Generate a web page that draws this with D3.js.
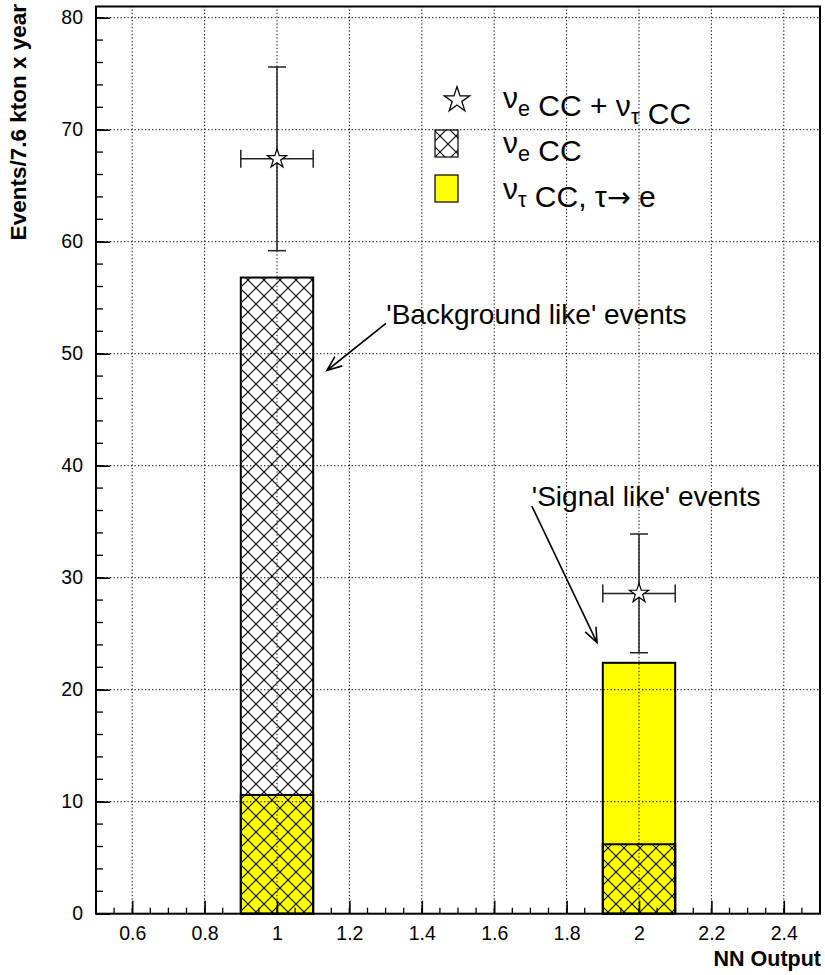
<!DOCTYPE html>
<html>
<head>
<meta charset="utf-8">
<script src="https://cdn.jsdelivr.net/npm/d3@7"></script>
<style>
  body { margin: 0; background: #fff; }
  svg { display: block; }
  text { font-family: "Liberation Sans", Arial, Helvetica, sans-serif; }
</style>
</head>
<body>
<div id="chart"></div>
<script>
// bins (NN output) and contents
const binCenters = [1, 2];
const binLow = [0.9, 1.9];
const binHigh = [1.1, 2.1];
const nueCC = [56.8, 6.2];      // hatched
const nutauCC = [10.6, 22.4];   // yellow
const totalCC = [67.4, 28.6];   // stars
const totalErr = [8.2, 5.3];
const xErr = [0.1, 0.1];

const xTicks = [0.6, 0.8, 1, 1.2, 1.4, 1.6, 1.8, 2, 2.2, 2.4];
const xTickLabels = ["0.6", "0.8", "1", "1.2", "1.4", "1.6", "1.8", "2", "2.2", "2.4"];
const yTicks = [0, 10, 20, 30, 40, 50, 60, 70, 80];

const width = 825, height = 975;

const x = d3.scaleLinear().domain([0.5, 2.5]).range([96, 820]);
const y = d3.scaleLinear().domain([0, 81]).range([913.7, 6.5]);

const svg = d3.select("#chart").append("svg")
    .attr("width", width)
    .attr("height", height);

const defs = svg.append("defs");
const hatch = defs.append("pattern")
    .attr("id", "hatch")
    .attr("patternUnits", "userSpaceOnUse")
    .attr("width", 16).attr("height", 16);
hatch.append("path")
    .attr("d", "M-2,-2 L18,18 M18,-2 L-2,18")
    .attr("stroke", "#000")
    .attr("stroke-width", 1.1)
    .attr("fill", "none");

// yellow (nu_tau) histogram
svg.selectAll("rect.tau")
    .data(binCenters)
    .enter().append("rect")
    .attr("class", "tau")
    .attr("x", (d, i) => x(binLow[i]))
    .attr("width", (d, i) => x(binHigh[i]) - x(binLow[i]))
    .attr("y", (d, i) => y(nutauCC[i]))
    .attr("height", (d, i) => y(0) - y(nutauCC[i]))
    .attr("fill", "#ffff00");

// hatched (nu_e) histogram on top
svg.selectAll("rect.nue")
    .data(binCenters)
    .enter().append("rect")
    .attr("class", "nue")
    .attr("x", (d, i) => x(binLow[i]))
    .attr("width", (d, i) => x(binHigh[i]) - x(binLow[i]))
    .attr("y", (d, i) => y(nueCC[i]))
    .attr("height", (d, i) => y(0) - y(nueCC[i]))
    .attr("fill", "url(#hatch)");

// outlines
[nutauCC, nueCC].forEach(vals => {
  svg.append("g").selectAll("rect")
    .data(binCenters)
    .enter().append("rect")
    .attr("x", (d, i) => x(binLow[i]))
    .attr("width", (d, i) => x(binHigh[i]) - x(binLow[i]))
    .attr("y", (d, i) => y(vals[i]))
    .attr("height", (d, i) => y(0) - y(vals[i]))
    .attr("fill", "none")
    .attr("stroke", "#000")
    .attr("stroke-width", 2);
});

// grid
const grid = svg.append("g")
    .attr("stroke", "#000")
    .attr("stroke-width", 1)
    .attr("stroke-dasharray", "1.3,2.2");
grid.selectAll("line.gx")
    .data(xTicks)
    .enter().append("line")
    .attr("x1", d => x(d)).attr("x2", d => x(d))
    .attr("y1", y(0)).attr("y2", y(81));
grid.selectAll("line.gy")
    .data(yTicks.slice(1))
    .enter().append("line")
    .attr("x1", x(0.5)).attr("x2", x(2.5))
    .attr("y1", d => y(d)).attr("y2", d => y(d));

// minor ticks
const minorX = d3.range(0.5, 2.5001, 0.05);
const minorY = d3.range(0, 81, 2);
svg.append("g").selectAll("line")
    .data(minorX)
    .enter().append("line")
    .attr("x1", d => x(d)).attr("x2", d => x(d))
    .attr("y1", y(0)).attr("y2", y(0) - 6)
    .attr("stroke", "#000").attr("stroke-width", 1.3);
svg.append("g").selectAll("line")
    .data(minorY)
    .enter().append("line")
    .attr("x1", x(0.5)).attr("x2", x(0.5) + 7)
    .attr("y1", d => y(d)).attr("y2", d => y(d))
    .attr("stroke", "#000").attr("stroke-width", 1.3);

// axes
const xAxis = svg.append("g")
    .attr("transform", `translate(0,${y(0)})`)
    .call(d3.axisBottom(x).tickValues(xTicks)
        .tickFormat((d, i) => xTickLabels[i])
        .tickSize(-13).tickPadding(9));
const yAxis = svg.append("g")
    .attr("transform", `translate(${x(0.5)},0)`)
    .call(d3.axisLeft(y).tickValues(yTicks).tickSize(-14).tickPadding(13));
[xAxis, yAxis].forEach(a => {
  a.select(".domain").remove();
  a.selectAll(".tick line").attr("stroke-width", 1.6);
  a.selectAll("text")
    .attr("font-size", 19.5)
    .attr("font-family", "Liberation Sans, Arial, sans-serif")
    .attr("fill", "#000");
});
xAxis.selectAll("text").attr("dy", "0.9em");

// frame
svg.append("rect")
    .attr("x", x(0.5)).attr("y", y(81))
    .attr("width", x(2.5) - x(0.5))
    .attr("height", y(0) - y(81))
    .attr("fill", "none")
    .attr("stroke", "#000")
    .attr("stroke-width", 2);

// axis titles
svg.append("text")
    .attr("x", 821).attr("y", 966)
    .attr("text-anchor", "end")
    .attr("font-size", 21.5)
    .attr("font-weight", "bold")
    .text("NN Output");
svg.append("text")
    .attr("transform", "translate(26,4) rotate(-90)")
    .attr("text-anchor", "end")
    .attr("font-size", 22.5)
    .attr("font-weight", "bold")
    .text("Events/7.6 kton x year");

// data points with errors
const pts = svg.append("g");
binCenters.forEach((c, i) => {
  const g = pts.append("g").attr("stroke", "#222").attr("stroke-width", 1.5);
  g.append("line")
    .attr("x1", x(c)).attr("x2", x(c))
    .attr("y1", y(totalCC[i] - totalErr[i])).attr("y2", y(totalCC[i] + totalErr[i]));
  g.append("line")
    .attr("x1", x(c - xErr[i])).attr("x2", x(c + xErr[i]))
    .attr("y1", y(totalCC[i])).attr("y2", y(totalCC[i]));
  [totalCC[i] - totalErr[i], totalCC[i] + totalErr[i]].forEach(v => {
    g.append("line")
      .attr("x1", x(c) - 9).attr("x2", x(c) + 9)
      .attr("y1", y(v)).attr("y2", y(v));
  });
  [c - xErr[i], c + xErr[i]].forEach(v => {
    g.append("line")
      .attr("x1", x(v)).attr("x2", x(v))
      .attr("y1", y(totalCC[i]) - 9).attr("y2", y(totalCC[i]) + 9);
  });
  pts.append("path")
    .attr("d", d3.symbol(d3.symbolStar, 115)())
    .attr("transform", `translate(${x(c)},${y(totalCC[i])})`)
    .attr("fill", "#fff")
    .attr("stroke", "#000")
    .attr("stroke-width", 1.2);
});

// legend
const lfs = 30;
const leg = svg.append("g");
leg.append("path")
    .attr("d", d3.symbol(d3.symbolStar, 200)())
    .attr("transform", "translate(457,100)")
    .attr("fill", "#fff").attr("stroke", "#000").attr("stroke-width", 1.3);
leg.append("rect")
    .attr("x", 435).attr("y", 130).attr("width", 23).attr("height", 27)
    .attr("fill", "url(#hatch)").attr("stroke", "#000").attr("stroke-width", 1.2);
leg.append("rect")
    .attr("x", 435).attr("y", 175).attr("width", 23).attr("height", 27)
    .attr("fill", "#ffff00").attr("stroke", "#000").attr("stroke-width", 1.2);

function legText(yb, parts) {
  const t = leg.append("text").attr("x", 503).attr("y", yb).attr("font-size", lfs);
  parts.forEach(p => {
    if (p.sub) {
      t.append("tspan").attr("dy", 8).attr("font-size", lfs * 0.72).text(p.sub);
      t.append("tspan").attr("dy", -8).text("");
    } else if (p.arrow) {
      t.append("tspan").attr("font-family", "DejaVu Sans").attr("font-size", lfs * 0.95).text(p.arrow);
    } else {
      t.append("tspan").text(p.t);
    }
  });
}
legText(108, [{t: "ν"}, {sub: "e"}, {t: " CC + ν"}, {sub: "τ"}, {t: " CC"}]);
legText(153, [{t: "ν"}, {sub: "e"}, {t: " CC"}]);
legText(199, [{t: "ν"}, {sub: "τ"}, {t: " CC, τ"}, {arrow: "→"}, {t: " e"}]);

// annotations
const notes = [
  {label: "'Background like' events", tx: 1.302, ty: 52.65, x1: 1.301, y1: 52.7, x2: 1.138, y2: 48.5},
  {label: "'Signal like' events", tx: 1.704, ty: 36.4, x1: 1.704, y1: 36.4, x2: 1.884, y2: 24.2}
];
notes.forEach(n => {
  svg.append("text")
    .attr("x", x(n.tx)).attr("y", y(n.ty))
    .attr("font-size", 28)
    .text(n.label);
  const ax1 = x(n.x1), ay1 = y(n.y1), ax2 = x(n.x2), ay2 = y(n.y2);
  const ang = Math.atan2(ay2 - ay1, ax2 - ax1);
  const hl = 16, ha = 0.38;
  svg.append("path")
    .attr("d", `M${ax1},${ay1} L${ax2},${ay2}` +
      ` M${ax2 - hl * Math.cos(ang - ha)},${ay2 - hl * Math.sin(ang - ha)} L${ax2},${ay2}` +
      ` L${ax2 - hl * Math.cos(ang + ha)},${ay2 - hl * Math.sin(ang + ha)}`)
    .attr("fill", "none")
    .attr("stroke", "#000")
    .attr("stroke-width", 1.6);
});
</script>
</body>
</html>
